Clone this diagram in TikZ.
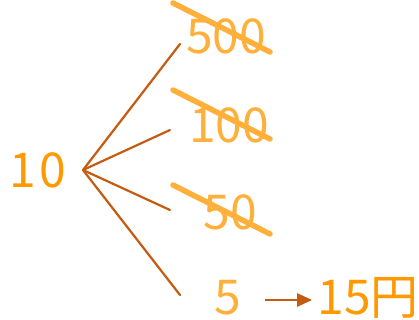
\documentclass[tikz,border=0pt]{standalone}
\usepackage{fontspec}
\setmainfont{Noto Sans CJK JP}
\usetikzlibrary{arrows.meta}
\definecolor{numorange}{HTML}{FF9900}
\definecolor{numlight}{HTML}{FFB03B}
\definecolor{branch}{HTML}{C55A11}

\begin{document}
\begin{tikzpicture}[x=1pt, y=-1pt,
    num/.style={font=\fontsize{48}{48}\selectfont, text=numorange, inner sep=0pt},
    option/.style={num, text=numlight},
    branchline/.style={draw=branch, line width=2.2pt, line cap=round},
    strike/.style={draw=numlight, line width=5.5pt, line cap=round},
    result/.style={draw=branch, line width=2.5pt, shorten >=5pt, -{Triangle[length=15pt, width=13pt]}}]
  \useasboundingbox (0,0) rectangle (419,320);

  \node[num]    (N10)  at (38,170)  {1\kern4pt0};
  \node[option] (N500) at (226,36)  {500};
  \node[option] (N100) at (229,125) {100};
  \node[option] (N50)  at (230,212) {50};
  \node[option] (N5)   at (228,298) {5};
  \node[num]    (N15)  at (368,298) {15円};

  \coordinate (Root) at (83,170);
  \coordinate (E500) at (180,44);
  \coordinate (E100) at (170,130);
  \coordinate (E50)  at (170,210);
  \coordinate (E5)   at (180,295);
  \coordinate (Go)   at (265,300);

  \draw[branchline] (Root) -- (E500);
  \draw[branchline] (Root) -- (E100);
  \draw[branchline] (Root) -- (E50);
  \draw[branchline] (Root) -- (E5);

  % crossed out
  \draw[strike] (173,3)   -- (270,52);
  \draw[strike] (173,90)  -- (270,139);
  \draw[strike] (173,185) -- (270,234);

  \draw[result] (Go) -- (Go -| N15.west);
\end{tikzpicture}
\end{document}
